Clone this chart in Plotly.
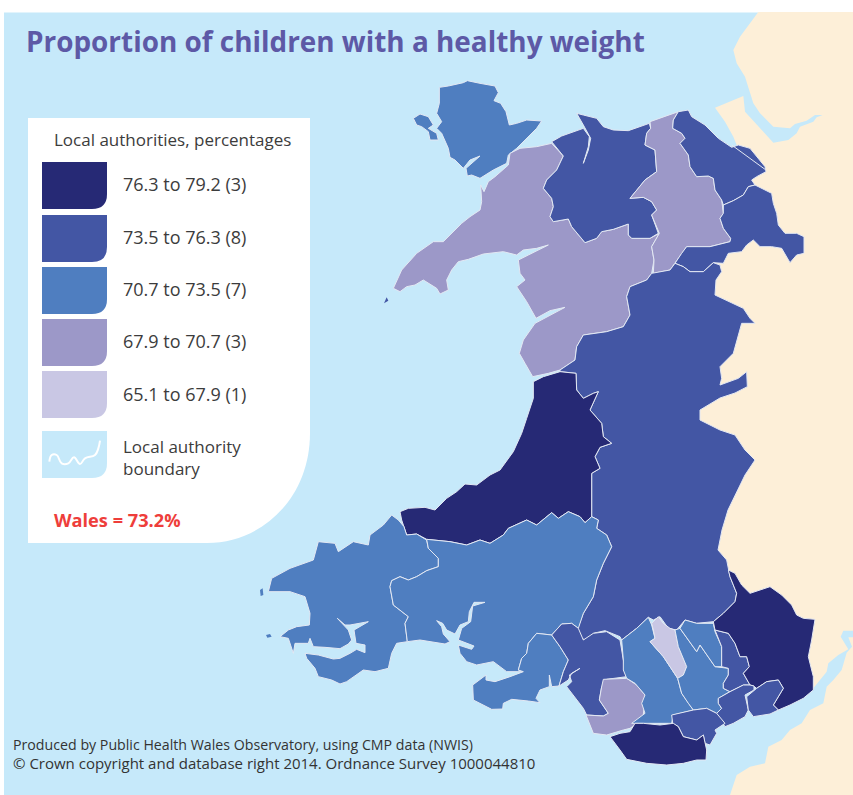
import plotly.graph_objects as go

# ---------- text and values ----------
TITLE = "Proportion of children with a healthy weight"
LEGEND_HEAD = "Local authorities, percentages"
BAND_LABELS = ["76.3 to 79.2 (3)", "73.5 to 76.3 (8)", "70.7 to 73.5 (7)", "67.9 to 70.7 (3)", "65.1 to 67.9 (1)"]
BAND_COLOURS = ["#262975", "#4356a4", "#4f7ec0", "#9c98c8", "#c9c7e4"]
BOUNDARY_LABEL = ["Local authority", "boundary"]
WALES_LABEL = "Wales = 73.2%"
FOOTER = ["Produced by Public Health Wales Observatory, using CMP data (NWIS)",
          "© Crown copyright and database right 2014. Ordnance Survey 1000044810"]
SEA = "#c6e9fa"
LAND = "#fdefd8"
EDGE = "#e3e8f3"
TEXT = "#3c3c3c"


def crop(ox, oy, pts):
    return [(ox + x / 3, oy + y / 3) for x, y in pts]


def a(p): return crop(380, 70, p)    # north
def b(p): return crop(250, 360, p)   # west
def c(p): return crop(540, 560, p)   # south-east
def d(p): return crop(460, 620, p)   # Swansea bay
def e(p): return crop(700, 0, p)     # Dee / Mersey
def f(p): return crop(700, 540, p)   # Severn


# ---------- surrounding land ----------
ENGLAND_NORTH = e([(175, 36), (150, 70), (120, 110), (100, 150), (110, 190), (135, 230), (145, 265), (160, 310),
                   (180, 340), (220, 380), (270, 385), (285, 372), (320, 362), (345, 345), (368, 345), (350, 352),
                   (340, 365), (300, 380), (290, 400), (265, 420), (220, 428), (190, 395), (160, 365), (135, 335),
                   (130, 288), (45, 323), (75, 365), (100, 410), (110, 435), (120, 480)]) + \
    [(700, 300), (700, 560), (770, 640)] + \
    f([(340, 445), (380, 395), (385, 370), (415, 345), (445, 328), (422, 290), (430, 272), (459, 272), (459, -1584)])
ENGLAND_SOUTH = f([(459, 292), (445, 292), (456, 320), (440, 338), (425, 390), (400, 420), (380, 440), (370, 490),
                   (330, 510), (305, 550), (270, 570), (245, 600), (205, 620), (195, 670), (150, 680), (110, 705),
                   (90, 765), (459, 765)])

# ---------- local authorities ----------
ANGLESEY = a([(178, 52), (205, 48), (250, 38), (262, 32), (300, 40), (345, 48), (355, 68), (342, 92), (362, 100),
              (378, 125), (388, 165), (410, 160), (440, 150), (485, 153), (470, 175), (440, 205), (410, 235),
              (385, 255), (380, 280), (340, 300), (300, 325), (275, 315), (262, 318), (258, 295), (300, 258),
              (270, 270), (250, 295), (225, 270), (210, 262), (205, 235), (185, 190), (170, 175), (185, 155),
              (170, 130), (178, 100)])
HOLY_ISLAND = a([(100, 145), (120, 132), (145, 140), (160, 165), (145, 175), (170, 190), (175, 210), (150, 210),
                 (145, 185), (125, 170), (110, 165)])
GWYNEDD = a([(40, 655), (65, 600), (110, 550), (160, 515), (190, 515), (245, 460), (270, 440), (300, 420), (305, 395),
             (302, 345), (312, 365), (325, 335), (345, 320), (385, 285), (390, 250), (420, 235), (470, 230), (515, 220),
             (550, 258), (530, 300), (500, 330), (490, 355), (515, 385), (520, 410), (510, 440), (520, 455), (565, 447),
             (575, 470), (615, 518), (650, 505), (665, 485), (700, 478), (745, 462), (745, 495), (755, 505), (810, 505),
             (838, 490), (815, 530), (822, 570), (815, 610), (800, 630), (750, 650), (740, 680), (750, 735), (730, 770),
             (680, 785), (610, 795), (590, 830), (585, 870), (540, 900), (505, 910), (458, 920), (435, 880), (418, 850),
             (430, 810), (465, 760), (555, 712), (510, 722), (468, 745), (440, 695), (410, 650), (435, 630), (420, 610),
             (415, 570), (445, 555), (505, 525), (470, 535), (430, 540), (410, 555), (370, 545), (310, 552), (265, 568),
             (235, 575), (215, 600), (200, 630), (205, 660), (180, 672), (170, 655), (130, 630), (105, 645), (80, 650),
             (60, 665)])
CONWY = a([(515, 215), (545, 198), (610, 175), (628, 200), (625, 230), (610, 280), (625, 240), (632, 205), (610, 165),
           (590, 130), (610, 135), (650, 145), (670, 170), (700, 180), (745, 182), (780, 170), (808, 160), (812, 175),
           (800, 190), (795, 225), (825, 240), (830, 305), (795, 330), (775, 355), (750, 385), (790, 382), (815, 395),
           (830, 420), (815, 435), (835, 490), (810, 505), (755, 505), (745, 495), (745, 462), (700, 478), (665, 485),
           (650, 505), (615, 518), (575, 470), (565, 447), (520, 455), (510, 440), (520, 410), (515, 385), (490, 355),
           (500, 330), (530, 300), (550, 258)])
DENBIGHSHIRE = a([(810, 155), (895, 125), (880, 150), (878, 175), (905, 190), (915, 205), (900, 220), (925, 255),
                  (930, 290), (950, 320), (985, 318), (1000, 325), (1005, 360), (1025, 390), (1030, 430), (1020, 445),
                  (1030, 475), (1052, 505), (1050, 515), (990, 530), (920, 530), (905, 550), (885, 580), (870, 600),
                  (820, 610), (822, 570), (815, 530), (838, 490), (815, 435), (830, 420), (815, 395), (790, 382),
                  (750, 385), (775, 355), (795, 330), (830, 305), (825, 240), (795, 225), (800, 190), (812, 175)])
FLINTSHIRE = a([(895, 125), (925, 120), (935, 140), (975, 165), (1015, 205), (1055, 232), (1075, 225), (1110, 235),
                (1155, 290), (1158, 305), (1130, 320), (1115, 330), (1125, 345), (1105, 350), (1090, 375), (1060, 392),
                (1030, 405), (1025, 390), (1005, 360), (1000, 325), (985, 318), (950, 320), (930, 290), (925, 255),
                (900, 220), (915, 205), (905, 190), (878, 175), (880, 150)])
WREXHAM = a([(1030, 405), (1060, 392), (1090, 375), (1105, 350), (1125, 345), (1150, 358), (1175, 370), (1180, 400),
             (1190, 430), (1195, 465), (1215, 490), (1250, 490), (1272, 500), (1272, 550), (1250, 555), (1230, 578),
             (1205, 535), (1175, 530), (1140, 530), (1120, 510), (1100, 525), (1085, 545), (1045, 550), (1030, 580),
             (1000, 578), (970, 605), (930, 605), (910, 590), (885, 580), (905, 550), (920, 530), (990, 530),
             (1050, 515), (1052, 505), (1030, 475), (1020, 445), (1030, 430)])
POWYS = a([(815, 610), (870, 600), (885, 580), (910, 590), (930, 605), (970, 605), (1000, 578), (1020, 585), (1025, 605),
           (1008, 630), (1005, 675), (1035, 690), (1090, 715), (1110, 745), (1125, 760), (1085, 760), (1075, 795),
           (1060, 850), (1020, 890), (1025, 925), (1020, 945), (1075, 925), (1100, 905), (1102, 950)]) + \
    [(735, 393), (720, 398), (700, 410), (700, 420), (720, 430), (735, 435), (745, 450), (755, 460), (745, 475),
     (738, 490), (728, 510), (722, 530), (718, 550)] + \
    c([(560, 0), (565, 30), (570, 50), (590, 100), (585, 125), (550, 160), (520, 185), (470, 190), (435, 180), (410, 210),
       (385, 205), (360, 170), (340, 180), (325, 172), (290, 205), (245, 240), (240, 230), (195, 212), (160, 220),
       (145, 245), (125, 235), (110, 205)]) + \
    b([(985, 800), (1000, 760), (1030, 710), (1040, 660), (1060, 610), (1085, 560), (1070, 525), (1040, 505), (1045, 480),
       (1025, 470), (1025, 340), (1050, 325), (1035, 290), (1050, 262), (1085, 250), (1060, 230), (1055, 190), (1020, 150),
       (1045, 95), (1030, 100), (1000, 115), (980, 90), (978, 40), (930, 35)]) + \
    a([(540, 900), (585, 870), (590, 830), (610, 795), (680, 785), (730, 770), (750, 735), (740, 680), (750, 650), (800, 630)])
CEREDIGION = b([(450, 455), (475, 445), (525, 442), (555, 450), (590, 415), (620, 395), (645, 372), (680, 375), (720, 345),
                (750, 330), (790, 275), (815, 220), (830, 175), (850, 115), (850, 65), (880, 50), (930, 35), (978, 40),
                (980, 90), (1000, 115), (1030, 100), (1045, 95), (1020, 150), (1055, 190), (1060, 230), (1085, 250),
                (1050, 262), (1035, 290), (1050, 325), (1025, 340), (1025, 470), (1005, 488), (990, 470), (955, 455),
                (925, 475), (905, 458), (860, 495), (830, 480), (775, 505), (760, 525), (720, 550), (690, 540), (650, 555),
                (600, 545), (530, 538), (500, 522), (470, 525), (462, 500), (455, 480)])
PEMBROKESHIRE = b([(425, 465), (445, 480), (462, 500), (470, 525), (500, 522), (530, 540), (535, 565), (565, 595), (565, 620),
                   (530, 632), (500, 650), (475, 660), (450, 650), (425, 662), (420, 680), (430, 735), (475, 770), (465, 790),
                   (472, 845), (440, 850), (425, 880), (415, 925), (375, 935), (340, 930), (290, 965), (270, 972), (245, 960),
                   (205, 950), (195, 925), (170, 895), (165, 880), (205, 885), (250, 897), (270, 895), (300, 880), (320, 868),
                   (345, 878), (345, 855), (318, 850), (312, 810), (355, 785), (300, 795), (285, 795), (262, 775), (295, 810),
                   (305, 840), (295, 852), (270, 866), (225, 862), (190, 860), (180, 835), (175, 850), (135, 850), (130, 880),
                   (115, 835), (90, 830), (115, 810), (140, 800), (178, 795), (180, 760), (165, 710), (120, 695), (55, 695),
                   (65, 655), (120, 625), (190, 600), (205, 545), (255, 550), (265, 575), (310, 545), (355, 555), (360, 525),
                   (400, 495)])
CARMARTHENSHIRE = b([(530, 538), (600, 545), (650, 555), (690, 540), (720, 550), (760, 525), (775, 505), (830, 480), (860, 495),
                     (905, 458), (925, 475), (955, 455), (990, 470), (1005, 488), (1025, 470), (1045, 480), (1040, 505),
                     (1070, 525), (1085, 560), (1060, 610), (1040, 660), (1030, 710), (1000, 760), (985, 800)]) + \
    d([(355, 25), (335, 10), (305, 12), (275, 45), (230, 40), (205, 70), (200, 100), (185, 115), (175, 150), (190, 155),
       (140, 155), (100, 125), (50, 135), (20, 125), (0, 100)]) + \
    b([(625, 855), (665, 868), (672, 858), (650, 850), (625, 840), (635, 805), (662, 785), (668, 738), (705, 727), (672, 727),
       (658, 755), (655, 785), (630, 795), (615, 822), (590, 810), (578, 790), (560, 782), (575, 800), (580, 822), (600, 845),
       (585, 852), (510, 840), (472, 845), (465, 790), (475, 770), (430, 735), (420, 680), (425, 662), (450, 650), (475, 660),
       (500, 650), (530, 632), (565, 620), (565, 595), (535, 565)])
SWANSEA = d([(230, 40), (275, 45), (300, 80), (325, 120), (310, 155), (297, 198), (275, 200), (268, 165), (268, 200), (240, 210),
             (228, 235), (240, 248), (205, 243), (155, 238), (130, 250), (128, 267), (95, 268), (60, 250), (40, 240), (38, 195),
             (78, 165), (78, 180), (105, 185), (150, 170), (190, 155), (175, 150), (185, 115), (200, 100), (205, 70)])
NEATH_PORT_TALBOT = d([(275, 45), (305, 12), (335, 10), (355, 25), (370, 60), (400, 40), (440, 35), (480, 60), (490, 120), (500, 170),
                       (440, 178), (425, 200), (418, 240), (445, 280), (430, 288), (380, 285), (370, 265), (340, 225), (320, 200),
                       (335, 185), (328, 165), (360, 145), (335, 160), (325, 180), (297, 198), (310, 155), (325, 120), (300, 80)])
BRIDGEND = d([(430, 178), (500, 175), (530, 195), (555, 225), (552, 265), (548, 300), (510, 325), (490, 330), (440, 345), (400, 340),
              (378, 285), (430, 288), (445, 280), (418, 240), (425, 200)])
RHONDDA = c([(245, 240), (290, 205), (325, 172), (335, 195), (345, 235), (330, 245), (370, 290), (413, 355), (425, 400), (445, 430),
             (460, 450), (400, 465), (395, 490), (360, 490), (310, 490), (275, 490), (315, 460), (305, 430), (315, 405), (285, 370),
             (260, 355), (250, 330), (250, 300)])
MERTHYR = c([(335, 190), (355, 170), (370, 190), (390, 205), (405, 210), (415, 260), (440, 320), (430, 345), (413, 355), (370, 290),
             (330, 245), (345, 235), (340, 210)])
CAERPHILLY = c([(405, 210), (420, 205), (470, 275), (480, 255), (525, 320), (565, 325), (565, 345), (550, 370), (550, 385), (570, 395),
                (535, 415), (535, 430), (545, 445), (530, 460), (500, 445), (460, 450), (445, 430), (425, 400), (413, 355), (430, 345),
                (440, 320), (415, 260)])
BLAENAU_GWENT = c([(420, 205), (435, 180), (470, 190), (520, 190), (525, 215), (545, 260), (545, 320), (525, 320), (480, 255), (470, 275)])
TORFAEN = c([(525, 210), (565, 220), (585, 250), (600, 290), (620, 290), (628, 320), (610, 340), (630, 375), (610, 375), (570, 395),
             (550, 385), (550, 370), (565, 345), (565, 325), (545, 320), (545, 260)])
NEWPORT = c([(535, 415), (570, 395), (610, 375), (630, 375), (642, 378), (642, 390), (615, 405), (620, 430), (625, 450), (615, 470),
             (580, 490), (555, 500), (530, 460), (545, 445), (535, 430)])
MONMOUTH_SOUTH = c([(620, 410), (650, 385), (680, 365), (715, 360), (730, 385), (700, 435), (715, 450), (690, 462), (640, 470), (625, 450)])
CARDIFF = c([(395, 465), (460, 450), (500, 445), (530, 460), (555, 490), (525, 510), (530, 520), (510, 555), (495, 550), (490, 525),
             (470, 540), (430, 530), (415, 500), (398, 490)])
VALE = c([(210, 530), (240, 520), (270, 515), (285, 490), (310, 490), (360, 495), (400, 490), (415, 500), (430, 530), (470, 540), (490, 525),
          (495, 550), (500, 570), (498, 600), (470, 600), (430, 610), (380, 615), (320, 610), (260, 598), (240, 570)])
MONMOUTHSHIRE = c([(565, 30), (585, 40), (605, 75), (630, 100), (690, 80), (725, 105), (755, 135), (770, 165), (790, 175), (825, 178),
                   (815, 240), (805, 290), (820, 350), (820, 390), (790, 415), (750, 435), (715, 450), (700, 435), (730, 385), (715, 360),
                   (680, 365), (650, 385), (640, 378), (630, 375), (610, 340), (628, 320), (620, 290), (600, 290), (585, 250), (565, 220),
                   (525, 210), (520, 185), (550, 160), (585, 125), (590, 100), (570, 50)])
SMALL_ISLES = [(1, a([(12, 700), (20, 682), (25, 692)])), (2, b([(30, 690), (38, 685), (40, 705), (32, 708)])),
               (2, b([(48, 825), (60, 822), (65, 830), (52, 833)]))]
DEE_LINE = a([(1055, 225), (1155, 298)])
BOUNDARY_WIGGLE = crop(0, 100, [(148, 1085), (155, 1065), (170, 1065), (185, 1090), (205, 1090), (222, 1072), (240, 1092),
                                (255, 1075), (285, 1065), (295, 1045), (300, 1022)])

# name, colour band (0 = highest), outline
AUTHORITIES = [
    ("Anglesey", 2, ANGLESEY), ("Holy Island", 2, HOLY_ISLAND), ("Gwynedd", 3, GWYNEDD), ("Conwy", 1, CONWY),
    ("Denbighshire", 3, DENBIGHSHIRE), ("Flintshire", 1, FLINTSHIRE), ("Wrexham", 1, WREXHAM), ("Powys", 1, POWYS),
    ("Ceredigion", 0, CEREDIGION), ("Pembrokeshire", 2, PEMBROKESHIRE), ("Carmarthenshire", 2, CARMARTHENSHIRE),
    ("Swansea", 2, SWANSEA), ("Neath Port Talbot", 1, NEATH_PORT_TALBOT), ("Bridgend", 3, BRIDGEND),
    ("Rhondda Cynon Taf", 2, RHONDDA), ("Merthyr Tydfil", 4, MERTHYR), ("Caerphilly", 2, CAERPHILLY),
    ("Blaenau Gwent", 2, BLAENAU_GWENT), ("Torfaen", 1, TORFAEN), ("Monmouthshire", 0, MONMOUTHSHIRE),
    ("Newport", 1, NEWPORT), ("Newport east", 1, MONMOUTH_SOUTH), ("Cardiff", 1, CARDIFF), ("Vale of Glamorgan", 0, VALE),
]

fig = go.Figure()


def poly(pts, fill, line=None, width=1.0, name=""):
    xs = [p[0] for p in pts] + [pts[0][0]]
    ys = [p[1] for p in pts] + [pts[0][1]]
    fig.add_trace(go.Scatter(x=xs, y=ys, mode="lines", fill="toself", fillcolor=fill, name=name,
                             line=dict(color=line or fill, width=width if line else 0), hoverinfo="skip", showlegend=False))


poly(ENGLAND_NORTH, LAND)
poly(ENGLAND_SOUTH, LAND)
for name, band, pts in AUTHORITIES:
    poly(pts, BAND_COLOURS[band], EDGE, 1.0, name)
for band, pts in SMALL_ISLES:
    poly(pts, BAND_COLOURS[band])
fig.add_trace(go.Scatter(x=[p[0] for p in DEE_LINE], y=[p[1] for p in DEE_LINE], mode="lines",
                         line=dict(color=EDGE, width=1), hoverinfo="skip", showlegend=False))

# ---------- legend panel ----------
shapes = [
    dict(type="rect", x0=4, x1=853, y0=12.5, y1=795, fillcolor=SEA, line_width=0, layer="below"),
    dict(type="path", path="M28,118 L310,118 L310,433 C310,498 262,543 207,543 L28,543 Z", fillcolor="white",
         line_width=0, layer="below"),
]
SWATCH_TOPS = [162, 215, 267, 319, 371, 431]
for top, col in zip(SWATCH_TOPS, BAND_COLOURS + [SEA]):
    shapes.append(dict(type="path", line_width=0, fillcolor=col, layer="below",
                       path=f"M42,{top} L107,{top} L107,{top + 32} Q107,{top + 47} 92,{top + 47} L42,{top + 47} Z"))
fig.add_trace(go.Scatter(x=[p[0] for p in BOUNDARY_WIGGLE], y=[p[1] for p in BOUNDARY_WIGGLE], mode="lines",
                         line=dict(color="white", width=2, shape="spline", smoothing=1.2), hoverinfo="skip", showlegend=False))

FONT = "Open Sans"


def label(x, y, s, size, colour=TEXT, bold=False):
    return dict(x=x - 2, y=y - 1, xref="x", yref="y", text=f"<b>{s}</b>" if bold else s, showarrow=False, xanchor="left",
                yanchor="middle", font=dict(family=FONT, size=size, color=colour))


LABEL_Y = [185, 238, 290, 342, 395]
notes = [label(26, 42, TITLE, 27.9, "#5d59a6", True), label(54, 140, LEGEND_HEAD, 17)]
notes += [label(123, y, s, 18) for y, s in zip(LABEL_Y, BAND_LABELS)]
notes += [label(123, 447, BOUNDARY_LABEL[0], 17), label(123, 469, BOUNDARY_LABEL[1], 17)]
notes += [label(54, 521, WALES_LABEL, 18.2, "#ee3e3b", True)]
notes += [label(13, 745, FOOTER[0], 14.2, "#333333"), label(13, 763.5, FOOTER[1], 15, "#333333")]

fig.update_layout(
    width=853, height=795, margin=dict(l=0, r=0, t=0, b=0), paper_bgcolor="white", plot_bgcolor="white",
    xaxis=dict(range=[0, 853], visible=False, fixedrange=True),
    yaxis=dict(range=[795, 0], visible=False, fixedrange=True),
    shapes=shapes, annotations=notes, showlegend=False,
)
fig.write_html("out.html", config=dict(displayModeBar=False),
               post_script="document.body.style.margin='0';document.body.style.overflow='hidden';")
